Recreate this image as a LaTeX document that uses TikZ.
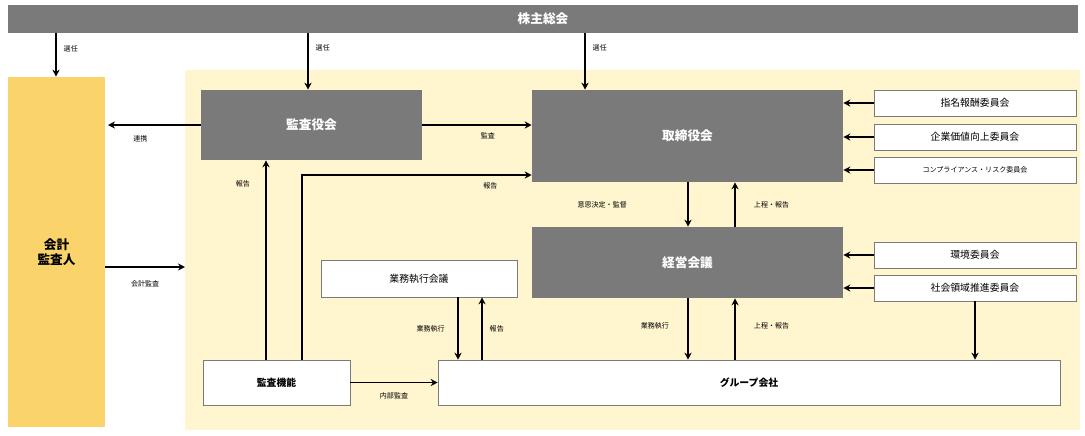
\documentclass[tikz,border=0pt]{standalone}
\usepackage{fontspec}
\setmainfont{Noto Sans CJK JP}
\usetikzlibrary{arrows.meta}
\definecolor{boxgray}{HTML}{7A7A7A}
\definecolor{auditor}{HTML}{FAD46B}
\definecolor{paleyel}{HTML}{FFF5CF}
\tikzset{
  graybox/.style={fill=boxgray, text=white, font=\bfseries\small, inner sep=0pt},
  whitebox/.style={draw=boxgray, fill=white, font=\scriptsize, inner sep=0pt},
  arr/.style={-{Stealth[length=5pt,width=5pt]}, line width=1pt},
  lbl/.style={font=\tiny, inner sep=1pt}
}
\begin{document}
\begin{tikzpicture}[x=0.025cm, y=-0.025cm]
        \useasboundingbox (0,0) rectangle (1085,435);
        % Backgrounds
        \fill[paleyel] (185,70) rectangle (1080,430);
        \node[graybox, minimum width=1070*0.025cm, minimum height=28*0.025cm] (gm) at (543,19) {株主総会};
        \node[fill=auditor, font=\bfseries\small, align=center, minimum width=97*0.025cm, minimum height=350*0.025cm, inner sep=0pt] (acc) at (56.5,252) {会計\\監査人};

        % Main bodies
        \node[graybox, minimum width=221*0.025cm, minimum height=70*0.025cm] (kansa) at (311.5,125) {監査役会};
        \node[graybox, minimum width=311*0.025cm, minimum height=92*0.025cm] (board) at (687.5,136) {取締役会};
        \node[graybox, minimum width=311*0.025cm, minimum height=71*0.025cm] (mgmt) at (687.5,262.5) {経営会議};
        \node[whitebox, minimum width=196*0.025cm, minimum height=37*0.025cm] (exec) at (419,278.5) {業務執行会議};
        \node[whitebox, font=\bfseries\scriptsize, minimum width=147*0.025cm, minimum height=45*0.025cm] (func) at (276.5,382.5) {監査機能};
        \node[whitebox, font=\bfseries\scriptsize, minimum width=622*0.025cm, minimum height=45*0.025cm] (group) at (749,382.5) {グループ会社};

        % Committees
        \foreach \name/\y/\txt in {c1/103/指名報酬委員会, c2/137/企業価値向上委員会, c4/255/環境委員会, c5/288/社会領域推進委員会}
          \node[whitebox, minimum width=202*0.025cm, minimum height=26*0.025cm] (\name) at (975,\y) {\txt};
        \node[whitebox, font=\tiny, minimum width=202*0.025cm, minimum height=26*0.025cm] (c3) at (975,170) {コンプライアンス・リスク委員会};
        \foreach \name/\tgt in {c1/board, c2/board, c3/board, c4/mgmt, c5/mgmt}
          \draw[arr] (\name.west) -- (\name.west -| \tgt.east);

        % Appointment
        \draw[arr] (gm.south -| 56,0) -- (acc.north -| 56,0) node[lbl, pos=0.35, right=4pt] {選任};
        \draw[arr] (gm.south -| 308,0) -- (kansa.north -| 308,0) node[lbl, pos=0.25, right=4pt] {選任};
        \draw[arr] (gm.south -| 585,0) -- (board.north -| 585,0) node[lbl, pos=0.25, right=4pt] {選任};

        % Audit relations
        \draw[arr] (kansa.west) -- (108,125) node[lbl, pos=0.65, below=6pt] {連携};
        \draw[arr] (kansa.east) -- (kansa.east -| board.west) node[lbl, pos=0.6, below=4pt] {監査};
        \draw[arr] (acc.east |- 0,267) -- (185,267) node[lbl, midway, below=8pt] {会計監査};
        \draw[arr] (func.north -| 266,0) -- (kansa.south -| 266,0) node[lbl, pos=0.88, left=10pt] {報告};
        \coordinate (bend) at (302,175);
        \draw[arr] (func.north -| bend) -- (bend) -- (bend -| board.west) node[lbl, pos=0.82, below=4pt] {報告};
        \draw[arr] (func.east) -- (func.east -| group.west) node[lbl, midway, below=6pt] {内部監査};

        % Board and management
        \draw[arr] (board.south -| 688,0) -- (mgmt.north -| 688,0) node[lbl, midway, left=42pt] {意思決定・監督};
        \draw[arr] (mgmt.north -| 735,0) -- (board.south -| 735,0) node[lbl, midway, right=12pt] {上程・報告};
        \draw[arr] (mgmt.south -| 688,0) -- (group.north -| 688,0) node[lbl, pos=0.45, left=12pt] {業務執行};
        \draw[arr] (group.north -| 735,0) -- (mgmt.south -| 735,0) node[lbl, pos=0.55, right=12pt] {上程・報告};
        \draw[arr] (c5.south) -- (c5.south |- group.north);

        % Execution meeting
        \draw[arr] (exec.south -| 458,0) -- (group.north -| 458,0) node[lbl, midway, left=8pt] {業務執行};
        \draw[arr] (group.north -| 482,0) -- (exec.south -| 482,0) node[lbl, midway, right=4pt] {報告};
\end{tikzpicture}
\end{document}
